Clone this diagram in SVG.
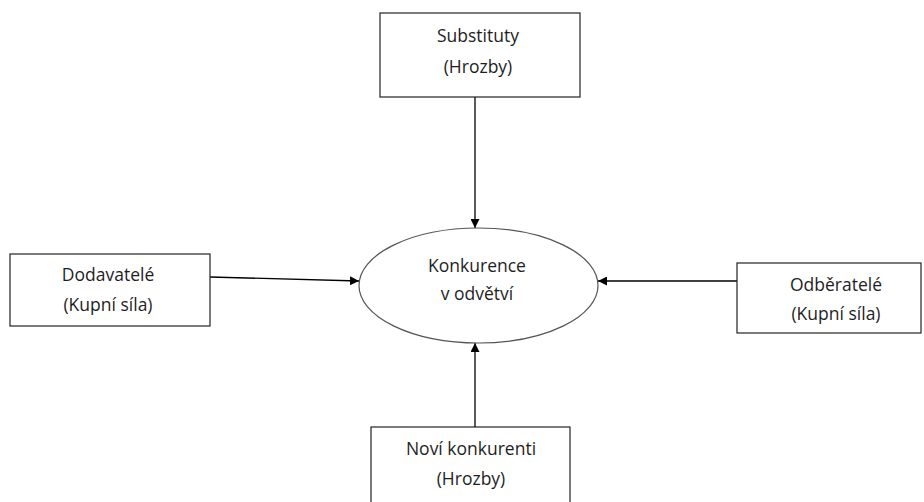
<svg xmlns="http://www.w3.org/2000/svg" width="924" height="502" viewBox="0 0 924 502">
<defs>
<style>
.box{fill:#fff;stroke:#222;stroke-width:1.2}
.ell{fill:#fff;stroke:#555;stroke-width:1.2}
.t{font-family:"Open Sans","Liberation Sans",sans-serif;font-size:17.5px;fill:#1e1e1e;text-anchor:middle}
.c{stroke:#000;stroke-width:1.3;fill:none;marker-end:url(#ah)}
</style>
<marker id="ah" viewBox="0 0 10 10" refX="10" refY="5" markerWidth="9" markerHeight="9" markerUnits="userSpaceOnUse" orient="auto">
<path d="M0,0 L10,5 L0,10 z" fill="#000"/>
</marker>
</defs>
<rect width="924" height="502" fill="#fff"/>
<g id="connectors">
<line class="c" x1="475" y1="97" x2="475" y2="228"/>
<line class="c" x1="475" y1="427" x2="475" y2="343"/>
<line class="c" x1="210" y1="277" x2="359" y2="281"/>
<line class="c" x1="737" y1="281" x2="598" y2="281"/>
</g>
<g id="substituty">
<rect class="box" x="380" y="13" width="200" height="84"/>
<text class="t" x="478" y="42">Substituty</text>
<text class="t" x="478" y="73">(Hrozby)</text>
</g>
<g id="dodavatele">
<rect class="box" x="10" y="254" width="200" height="72"/>
<text class="t" x="108" y="281">Dodavatelé</text>
<text class="t" x="108" y="311">(Kupní síla)</text>
</g>
<g id="odberatele">
<rect class="box" x="737" y="263" width="184" height="70"/>
<text class="t" x="836" y="291">Odběratelé</text>
<text class="t" x="836" y="320">(Kupní síla)</text>
</g>
<g id="novi-konkurenti">
<rect class="box" x="371" y="427" width="199" height="80"/>
<text class="t" x="471" y="455">Noví konkurenti</text>
<text class="t" x="471" y="485">(Hrozby)</text>
</g>
<g id="konkurence">
<ellipse class="ell" cx="478.5" cy="285.5" rx="119.5" ry="57.5"/>
<text class="t" x="477" y="272">Konkurence</text>
<text class="t" x="477" y="300">v odvětví</text>
</g>
</svg>
